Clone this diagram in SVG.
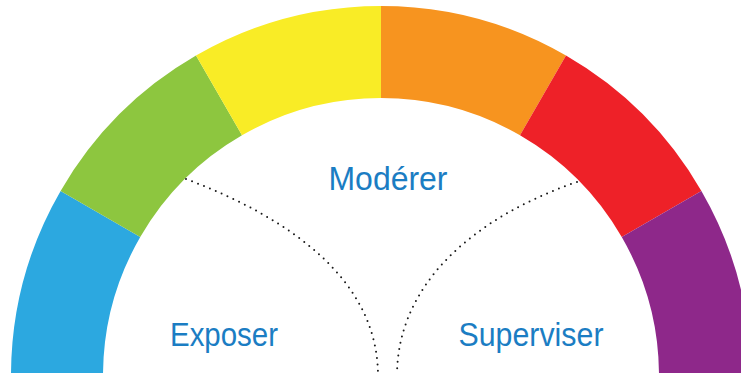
<svg xmlns="http://www.w3.org/2000/svg" width="741" height="373" viewBox="0 0 741 373">
<style>
.lbl{font-family:"Liberation Sans","DejaVu Sans",sans-serif;font-size:33px;fill:#1B7DC3;text-anchor:middle}
.dot{fill:none;stroke:#1a1a1a;stroke-width:2;stroke-linecap:round;stroke-dasharray:0 6.4}
</style>
<rect width="741" height="373" fill="#fff"/>
<g id="gauge">
<path id="seg-blue" fill="#2CA8E0" d="M11,376 A370,370 0 0 1 60.6,191 L140.25,237 A278,278 0 0 0 103,376 Z"/>
<path id="seg-green" fill="#8DC63F" d="M60.6,191 A370,370 0 0 1 196,55.6 L242,135.25 A278,278 0 0 0 140.25,237 Z"/>
<path id="seg-yellow" fill="#F9EC26" d="M196,55.6 A370,370 0 0 1 381,6 L381,98 A278,278 0 0 0 242,135.25 Z"/>
<path id="seg-orange" fill="#F7941F" d="M381,6 A370,370 0 0 1 566,55.6 L520,135.25 A278,278 0 0 0 381,98 Z"/>
<path id="seg-red" fill="#EE2128" d="M566,55.6 A370,370 0 0 1 701.4,191 L621.75,237 A278,278 0 0 0 520,135.25 Z"/>
<path id="seg-purple" fill="#8E288A" d="M701.4,191 A370,370 0 0 1 751,376 L659,376 A278,278 0 0 0 621.75,237 Z"/>
</g>
<g id="connectors">
<path class="dot" d="M186,179 C290,218 378,280 378,376"/>
<path class="dot" d="M577,182 C480,215 397,280 397,376"/>
</g>
<g id="node-moderer"><text class="lbl" x="388" y="190" textLength="119" lengthAdjust="spacingAndGlyphs">Modérer</text></g>
<g id="node-exposer"><text class="lbl" x="224" y="346" textLength="108" lengthAdjust="spacingAndGlyphs">Exposer</text></g>
<g id="node-superviser"><text class="lbl" x="531" y="346" textLength="145" lengthAdjust="spacingAndGlyphs">Superviser</text></g>
</svg>
